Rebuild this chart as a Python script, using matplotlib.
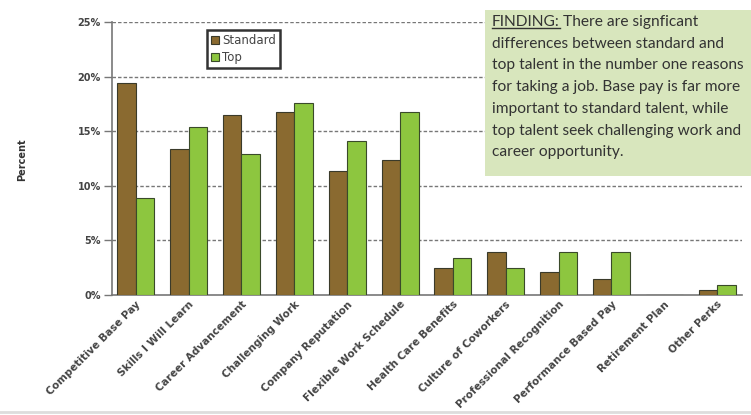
import matplotlib
matplotlib.use("Agg")
import matplotlib.pyplot as plt
import numpy as np
from matplotlib.lines import Line2D
from matplotlib.patches import Rectangle

categories = ["Competitive Base Pay", "Skills I Will Learn", "Career Advancement",
              "Challenging Work", "Company Reputation", "Flexible Work Schedule",
              "Health Care Benefits", "Culture of Coworkers", "Professional Recognition",
              "Performance Based Pay", "Retirement Plan", "Other Perks"]
standard = [19.4, 13.4, 16.5, 16.8, 11.4, 12.4, 2.5, 3.9, 2.1, 1.45, 0.0, 0.45]
top = [8.9, 15.4, 12.9, 17.6, 14.1, 16.8, 3.4, 2.5, 3.9, 3.9, 0.0, 0.9]
yticks = [0, 5, 10, 15, 20, 25]
ytick_labels = ["0%", "5%", "10%", "15%", "20%", "25%"]
finding_lines = ["There are signficant",
                 "differences between standard and",
                 "top talent in the number one reasons",
                 "for taking a job. Base pay is far more",
                 "important to standard talent, while",
                 "top talent seek challenging work and",
                 "career opportunity."]

C_STD = "#8a6a30"
C_TOP = "#8dc63f"

fig = plt.figure(figsize=(7.51, 4.15), dpi=100)
ax = fig.add_axes([112/751, 1-295/415, (742-112)/751, (295-22)/415])

x = np.arange(len(categories))
w = 0.35
ax.bar(x - w/2, standard, w, color=C_STD, edgecolor="#3a3a2a", linewidth=0.8, label="Standard", zorder=3)
ax.bar(x + w/2, top, w, color=C_TOP, edgecolor="#3a4a2a", linewidth=0.8, label="Top", zorder=3)

ax.set_xlim(-0.45, 11.47)
ax.set_ylim(0, 25)
ax.set_yticks(yticks)
ax.set_yticklabels(ytick_labels, fontsize=7, fontweight="bold", color="#444444")
for yv in yticks[1:]:
    ax.axhline(yv, color="#777777", linestyle=(0, (2.5, 1.5)), linewidth=1.0, zorder=1)
ax.tick_params(axis="y", length=6, width=1, color="#777777", pad=2)
ax.tick_params(axis="x", length=0, pad=3)
ax.set_xticks(x)
ax.set_xticklabels(categories, rotation=45, ha="right", rotation_mode="anchor",
                   fontsize=7.5, fontweight="bold", color="#444444")
for s in ["top", "right"]:
    ax.spines[s].set_visible(False)
ax.spines["left"].set_color("#777777")
ax.spines["left"].set_linewidth(1.2)
ax.spines["bottom"].set_color("#777777")
ax.spines["bottom"].set_linewidth(1.2)

fig.text(22/751, 1-160/415, "Percent", rotation=90, fontsize=7, fontweight="bold",
         color="#333333", ha="center", va="center")

leg = ax.legend(loc="upper left", bbox_to_anchor=((207-112)/630, 1-(30-22)/273),
                borderaxespad=0, fontsize=8.5, frameon=True, fancybox=False,
                handlelength=0.7, handleheight=0.7, handletextpad=0.2,
                borderpad=0.35, labelspacing=0.35)
leg.get_frame().set_edgecolor("black")
leg.get_frame().set_linewidth(1.8)
for t in leg.get_texts():
    t.set_color("#444444")

# Finding box
fig.patches.append(Rectangle((485/751, 1-176/415), (751-485)/751, (176-10)/415,
                             transform=fig.transFigure, facecolor="#d8e6bd",
                             edgecolor="none", zorder=5))
fs = 11.15
lh = 21.7
x0 = 492/751
y0 = 1-22/415
font = "Lato"
t1 = fig.text(x0, y0, "FINDING:", fontsize=fs, family=font, color="#333333",
              va="center", ha="left", zorder=6)
fig.canvas.draw()
r = fig.canvas.get_renderer()
bb = t1.get_window_extent(r)
fig.text(bb.x1/751 + 3/751, y0, finding_lines[0], fontsize=fs, family=font,
         color="#333333", va="center", ha="left", zorder=6)
fig.lines.append(Line2D([bb.x0/751, bb.x1/751], [bb.y0/415 + 1/415]*2,
                        transform=fig.transFigure, color="#333333", linewidth=1, zorder=6))
for i, line in enumerate(finding_lines[1:], start=1):
    fig.text(x0, y0 - i*lh/415, line, fontsize=fs, family=font, color="#333333",
             va="center", ha="left", zorder=6)

fig.lines.append(Line2D([0, 1], [1-412/415]*2, transform=fig.transFigure,
                        color="#dddddd", linewidth=2))

fig.savefig("out.png", dpi=100)
